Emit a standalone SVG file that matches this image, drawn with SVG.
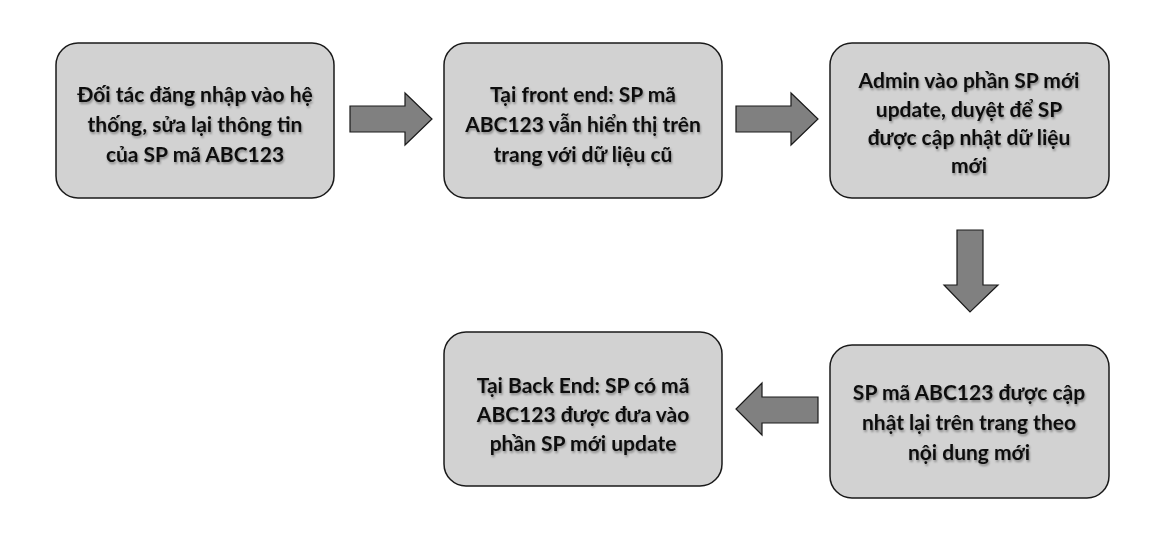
<svg xmlns="http://www.w3.org/2000/svg" width="1171" height="544" viewBox="0 0 1171 544">
<defs>
<filter id="ts" x="-10%" y="-20%" width="120%" height="150%">
<feDropShadow dx="1" dy="2" stdDeviation="1" flood-color="#000" flood-opacity="0.35"/>
</filter>
</defs>
<style>
.box{fill:#d2d2d2;stroke:#1a1a1a;stroke-width:1.5}
.arr{fill:#808080;stroke:#1a1a1a;stroke-width:1.2;stroke-linejoin:miter}
.t{font-family:Lato,"Open Sans","Liberation Sans",sans-serif;font-weight:bold;font-size:21px;fill:#111;text-anchor:middle}
</style>
<rect width="1171" height="544" fill="#fff"/>
<g id="n1">
<rect class="box" x="56" y="43" width="278" height="155" rx="22"/>
<g filter="url(#ts)"><text class="t" x="195" y="102">Đối tác đăng nhập vào hệ</text>
<text class="t" x="195" y="132">thống, sửa lại thông tin</text>
<text class="t" x="195" y="162">của SP mã ABC123</text></g>
</g>
<g id="n2">
<rect class="box" x="444" y="43" width="278" height="155" rx="22"/>
<g filter="url(#ts)"><text class="t" x="583" y="102">Tại front end: SP mã</text>
<text class="t" x="583" y="132">ABC123 vẫn hiển thị trên</text>
<text class="t" x="583" y="162">trang với dữ liệu cũ</text></g>
</g>
<g id="n3">
<rect class="box" x="830" y="43" width="279" height="155" rx="22"/>
<g filter="url(#ts)"><text class="t" x="969" y="88">Admin vào phần SP mới</text>
<text class="t" x="969" y="117">update, duyệt để SP</text>
<text class="t" x="969" y="145">được cập nhật dữ liệu</text>
<text class="t" x="969" y="173">mới</text></g>
</g>
<g id="n4">
<rect class="box" x="830" y="345" width="279" height="153" rx="22"/>
<g filter="url(#ts)"><text class="t" x="969" y="400">SP mã ABC123 được cập</text>
<text class="t" x="969" y="430">nhật lại trên trang theo</text>
<text class="t" x="969" y="460">nội dung mới</text></g>
</g>
<g id="n5">
<rect class="box" x="444" y="332" width="278" height="154" rx="22"/>
<g filter="url(#ts)"><text class="t" x="583" y="393">Tại Back End: SP có mã</text>
<text class="t" x="583" y="422">ABC123 được đưa vào</text>
<text class="t" x="583" y="451">phần SP mới update</text></g>
</g>
<g id="connectors">
<polygon class="arr" points="350,106 405,106 405,93 432,119 405,145 405,132 350,132"/>
<polygon class="arr" points="736,106 791,106 791,93 818,119 791,145 791,132 736,132"/>
<polygon class="arr" points="957,230 983,230 983,285 998,285 970,312 944,285 957,285"/>
<polygon class="arr" points="818,397 762,397 762,383 736,409 762,435 762,423 818,423"/>
</g>
</svg>
